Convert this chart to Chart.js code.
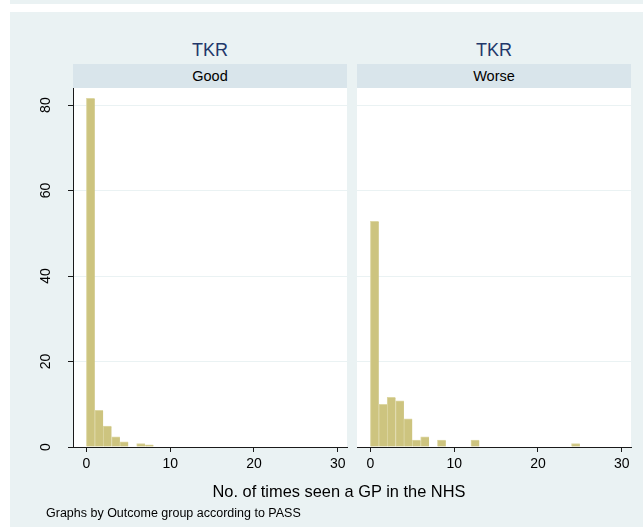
<!DOCTYPE html>
<html>
<head>
<meta charset="utf-8">
<script src="https://cdn.jsdelivr.net/npm/chart.js@4/dist/chart.umd.min.js"></script>
<style>
  body { margin:0; width:643px; height:530px; background:#fff; position:relative; overflow:hidden;
         font-family:"Liberation Sans", Arial, sans-serif; color:#000; }
  .abs { position:absolute; }
  #band   { left:10px; top:0; width:633px; height:4px; background:#eaf2f3; }
  #region { left:10px; top:12px; width:633px; height:515px; background:#eaf2f3; }
  .title  { top:39px; width:274px; text-align:center; font-size:18px; line-height:22px; color:#22386a; }
  .strip  { top:64px; height:24px; width:274px; background:#d9e5eb; text-align:center;
            font-size:14.5px; line-height:24px; }
  #xtitle { left:139px; width:400px; top:481px; text-align:center; font-size:16.4px; line-height:20px; }
  #note   { left:46px; top:505px; font-size:12.5px; line-height:16px; white-space:nowrap; }
  canvas  { position:absolute; }
</style>
</head>
<body>
<div id="band" class="abs"></div>
<div id="region" class="abs"></div>

<div class="abs title" style="left:73px">TKR</div>
<div class="abs title" style="left:357px">TKR</div>
<div class="abs strip" style="left:73px">Good</div>
<div class="abs strip" style="left:357px">Worse</div>

<canvas id="good"  width="340" height="400" style="left:10px;top:88px"></canvas>
<canvas id="worse" width="285" height="400" style="left:350px;top:88px"></canvas>

<div id="xtitle" class="abs">No. of times seen a GP in the NHS</div>
<div id="note" class="abs">Graphs by Outcome group according to PASS</div>

<script>
// Lower edge of each histogram bin (width 1 visit)
const binStarts = [0, 1, 2, 3, 4, 5, 6, 7, 8, 9, 10, 11, 12, 13, 14, 15, 16, 17, 18, 19, 20, 21, 22, 23, 24];
// Percent of patients per bin, by outcome group
const goodPct  = [81.6, 8.6, 4.9, 2.4, 1.2, 0, 0.8, 0.5, 0, 0, 0, 0, 0, 0, 0, 0, 0, 0, 0, 0, 0, 0, 0, 0, 0];
const worsePct = [52.8, 10.0, 11.6, 10.8, 6.6, 1.6, 2.4, 0, 1.6, 0, 0, 0, 1.6, 0, 0, 0, 0, 0, 0, 0, 0, 0, 0, 0, 0.8];
const xTicks = [0, 10, 20, 30];
const yTicks = [0, 20, 40, 60, 80];

const BAR = '#cdc47f';
const BAR_EDGE = '#ddd7a3';
const GRID = '#eaf2f3';
const INK = '#1a1a1a';
const FONT = '"Liberation Sans", Arial, sans-serif';

// White plot region behind the bars
const plotFill = {
  id: 'plotFill',
  beforeDraw(chart) {
    const a = chart.chartArea, c = chart.ctx;
    c.save(); c.fillStyle = '#fff'; c.fillRect(a.left, a.top, a.right - a.left, a.bottom - a.top); c.restore();
  }
};

function makePanel(id, values, showY, yWidth, padRight) {
  const points = binStarts.map((s, i) => ({ x: s + 0.5, y: values[i] }));
  return new Chart(document.getElementById(id), {
    type: 'bar',
    data: { datasets: [{
      data: points,
      backgroundColor: BAR,
      borderColor: BAR_EDGE,
      borderWidth: { left: 1, top: 1, right: 0, bottom: 0 },
      borderSkipped: false,
      barPercentage: 1,
      categoryPercentage: 1,
      grouped: false
    }]},
    options: {
      responsive: false,
      animation: false,
      events: [],
      layout: { padding: { left: 0, right: padRight, top: 0, bottom: 0 } },
      plugins: { legend: { display: false }, tooltip: { enabled: false } },
      scales: {
        x: {
          type: 'linear', min: -1.6, max: 31.1, offset: false,
          afterBuildTicks: s => { s.ticks = xTicks.map(v => ({ value: v })); },
          afterFit: s => { s.height = 41; s.paddingLeft = 0; s.paddingRight = 0; },
          grid: { offset: false, drawOnChartArea: false, drawTicks: true, tickLength: 5, tickColor: INK },
          border: { display: true, color: INK, width: 1 },
          ticks: { font: { family: FONT, size: 14 }, color: '#000', padding: 4, maxRotation: 0, minRotation: 0 }
        },
        y: {
          min: 0, max: 84,
          afterBuildTicks: s => { s.ticks = yTicks.map(v => ({ value: v })); },
          afterFit: s => { s.width = yWidth; s.paddingTop = 0; s.paddingBottom = 0; },
          grid: { color: GRID, lineWidth: 1, drawTicks: showY, tickLength: 5, tickColor: INK },
          border: { display: showY, color: INK, width: 1 },
          ticks: {
            display: showY,
            font: { family: FONT, size: 14 }, color: '#000',
            padding: 14, minRotation: 90, maxRotation: 90, crossAlign: 'center'
          }
        }
      }
    },
    plugins: [plotFill]
  });
}

makePanel('good', goodPct, true, 63, 3);
makePanel('worse', worsePct, false, 7, 4);
</script>
</body>
</html>
